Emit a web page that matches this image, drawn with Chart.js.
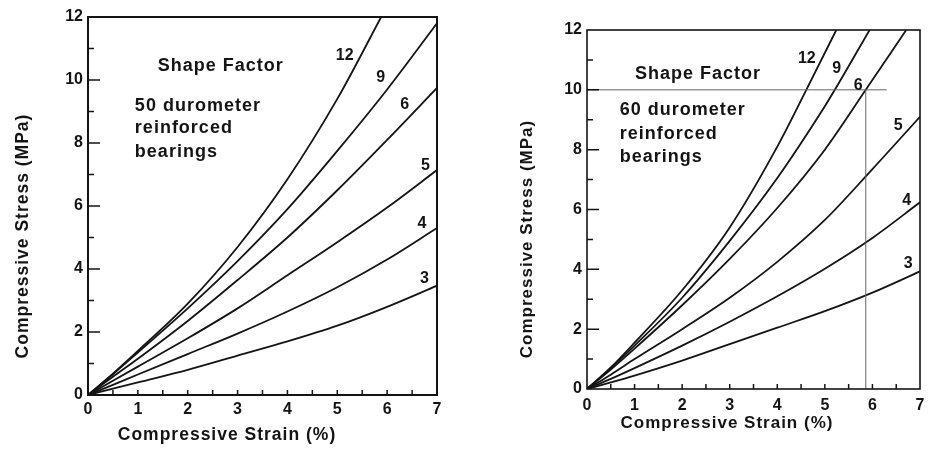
<!DOCTYPE html>
<html><head><meta charset="utf-8">
<script src="https://cdn.jsdelivr.net/npm/chart.js@4.4.1/dist/chart.umd.min.js"></script>
<style>
html,body{margin:0;padding:0;background:#fff;width:947px;height:451px;overflow:hidden;}
canvas{position:absolute;top:0;}
#c1{left:0;}
#c2{left:500px;}
</style></head><body>
<canvas id="c1" width="460" height="451" style="width:460px;height:451px"></canvas>
<canvas id="c2" width="447" height="451" style="width:447px;height:451px"></canvas>
<script>
// ---------- data ----------
const strainTicks = [0, 1, 2, 3, 4, 5, 6, 7];
const stressTicks = [0, 2, 4, 6, 8, 10, 12];
const shapeFactors = ['3', '4', '5', '6', '9', '12'];
const strainGrid = [0, 0.5, 1, 2, 3, 4, 5, 6, 7];

// 50 durometer reinforced bearings
const d50_sf3  = [0, 0.2, 0.4, 0.8, 1.25, 1.7, 2.2, 2.8, 3.47];
const d50_sf4  = [0, 0.32, 0.65, 1.3, 1.95, 2.65, 3.42, 4.3, 5.3];
const d50_sf5  = [0, 0.45, 0.9, 1.8, 2.75, 3.8, 4.85, 5.95, 7.14];
const d50_sf6  = [0, 0.58, 1.15, 2.35, 3.65, 5.0, 6.5, 8.1, 9.75];
const d50_sf9  = [0, 0.66, 1.35, 2.75, 4.25, 5.9, 7.75, 9.7, 11.8];
const d50_sf12_strain = [0, 0.5, 1, 2, 3, 4, 5, 5.88];
const d50_sf12 = [0, 0.68, 1.4, 2.9, 4.7, 6.85, 9.4, 12];

// 60 durometer reinforced bearings
const d60_sf3  = [0, 0.22, 0.45, 0.95, 1.5, 2.05, 2.6, 3.22, 3.93];
const d60_sf4  = [0, 0.34, 0.7, 1.45, 2.25, 3.1, 4.02, 5.05, 6.24];
const d60_sf5  = [0, 0.48, 1.0, 2.0, 3.05, 4.25, 5.65, 7.35, 9.1];
const d60_sf6_strain = [0, 0.5, 1, 2, 3, 4, 5, 5.86, 6.71];
const d60_sf6  = [0, 0.65, 1.35, 2.8, 4.35, 6.05, 8.0, 10, 12];
const d60_sf9_strain = [0, 0.5, 1, 2, 3, 4, 5, 5.21, 5.94];
const d60_sf9  = [0, 0.7, 1.45, 3.05, 4.95, 7.05, 9.45, 10, 12];
const d60_sf12_strain = [0, 0.5, 1, 2, 3, 4, 4.61, 5.24];
const d60_sf12 = [0, 0.72, 1.55, 3.3, 5.4, 8.1, 10, 12];

// guide lines on the 60 durometer chart
const guideH_strain = [0, 6.3];
const guideH_stress = [10, 10];
const guideV_strain = [5.86, 5.86];
const guideV_stress = [0, 10];

// ---------- helpers ----------
const FONT = "'Liberation Sans', Arial, Helvetica, sans-serif";
const INK = '#141414';
const pts = (xs, ys) => xs.map((v, i) => ({x: v, y: ys[i]}));

function curve(label, xs, ys) {
  return {label, data: pts(xs, ys), borderColor: INK, borderWidth: 1.8,
    pointRadius: 0, fill: false, cubicInterpolationMode: 'monotone'};
}
function guide(xs, ys) {
  return {label: 'guide', data: pts(xs, ys), borderColor: '#666', borderWidth: 1,
    pointRadius: 0, fill: false, tension: 0};
}

const deco = {
  id: 'deco',
  afterDatasetsDraw(chart, args, o) {
    const {ctx, chartArea: a, scales: {x, y}} = chart;
    ctx.save();
    ctx.strokeStyle = INK;
    ctx.lineWidth = 1.5;
    ctx.beginPath();
    for (let v = 1; v < 12; v += 1) {
      const py = y.getPixelForValue(v);
      const len = v % 2 === 0 ? o.majorLen : o.minorLen;
      ctx.moveTo(a.left, py); ctx.lineTo(a.left + len, py);
    }
    for (let v = 0.5; v < 7; v += 0.5) {
      const px = x.getPixelForValue(v);
      ctx.moveTo(px, a.bottom); ctx.lineTo(px, a.bottom - o.xLen);
    }
    ctx.stroke();
    ctx.lineWidth = o.frame;
    ctx.strokeRect(a.left, a.top, a.right - a.left, a.bottom - a.top);

    ctx.fillStyle = INK;
    ctx.textBaseline = 'middle';
    for (const t of o.texts) {
      ctx.font = t.font;
      try { ctx.letterSpacing = (t.spacing || 0) + 'px'; } catch (e) {}
      ctx.textAlign = t.align || 'left';
      ctx.fillText(t.text, x.getPixelForValue(t.x), y.getPixelForValue(t.y));
    }
    // axis titles
    ctx.font = 'bold ' + o.titleSize + 'px ' + FONT;
    try { ctx.letterSpacing = o.spacing + 'px'; } catch (e) {}
    ctx.textAlign = 'center';
    ctx.fillText(o.xTitle, o.xTitlePos[0], o.xTitlePos[1]);
    ctx.translate(o.yTitlePos[0], o.yTitlePos[1]);
    ctx.rotate(-Math.PI / 2);
    ctx.fillText(o.yTitle, 0, 0);
    ctx.restore();
  }
};

function makeChart(id, datasets, cfg) {
  const tickFont = {family: FONT, size: 16, weight: 'bold'};
  return new Chart(document.getElementById(id), {
    type: 'line',
    data: {datasets},
    options: {
      responsive: false, animation: false, events: [],
      layout: {padding: cfg.padding},
      plugins: {legend: {display: false}, tooltip: {enabled: false}, deco: cfg.deco},
      scales: {
        x: {type: 'linear', min: 0, max: 7,
          afterBuildTicks: s => { s.ticks = strainTicks.map(v => ({value: v})); },
          afterFit: s => { s.height = cfg.xHeight; },
          grid: {display: false, drawTicks: false}, border: {display: false},
          ticks: {color: INK, font: tickFont, padding: cfg.xPad, maxRotation: 0, autoSkip: false}},
        y: {type: 'linear', min: 0, max: 12,
          afterBuildTicks: s => { s.ticks = stressTicks.map(v => ({value: v})); },
          afterFit: s => { s.width = cfg.yWidth; },
          grid: {display: false, drawTicks: false}, border: {display: false},
          ticks: {color: INK, font: tickFont, padding: 5, autoSkip: false}}
      }
    },
    plugins: [deco]
  });
}

const big = 'bold 18px ' + FONT;
const num = 'bold 16px ' + FONT;

makeChart('c1', [
  curve(shapeFactors[0], strainGrid, d50_sf3),
  curve(shapeFactors[1], strainGrid, d50_sf4),
  curve(shapeFactors[2], strainGrid, d50_sf5),
  curve(shapeFactors[3], strainGrid, d50_sf6),
  curve(shapeFactors[4], strainGrid, d50_sf9),
  curve(shapeFactors[5], d50_sf12_strain, d50_sf12)
], {
  padding: {left: 0, top: 17, right: 23, bottom: 0},
  xHeight: 56, yWidth: 88, xPad: 5,
  deco: {
    majorLen: 12, minorLen: 6, xLen: 5, frame: 2,
    titleSize: 17.5, spacing: 1,
    xTitle: 'Compressive Strain (%)', xTitlePos: [227, 435],
    yTitle: 'Compressive Stress (MPa)', yTitlePos: [23, 236],
    texts: [
      {text: 'Shape Factor', x: 1.40, y: 10.43, font: big, spacing: 1},
      {text: '50 durometer', x: 0.94, y: 9.18, font: big, spacing: 1},
      {text: 'reinforced', x: 0.94, y: 8.47, font: big, spacing: 1},
      {text: 'bearings', x: 0.94, y: 7.72, font: big, spacing: 1},
      {text: shapeFactors[5], x: 5.15, y: 10.79, font: num, align: 'center'},
      {text: shapeFactors[4], x: 5.87, y: 10.07, font: num, align: 'center'},
      {text: shapeFactors[3], x: 6.35, y: 9.21, font: num, align: 'center'},
      {text: shapeFactors[2], x: 6.77, y: 7.28, font: num, align: 'center'},
      {text: shapeFactors[1], x: 6.70, y: 5.45, font: num, align: 'center'},
      {text: shapeFactors[0], x: 6.75, y: 3.70, font: num, align: 'center'}
    ]
  }
});

makeChart('c2', [
  guide(guideH_strain, guideH_stress),
  guide(guideV_strain, guideV_stress),
  curve(shapeFactors[0], strainGrid, d60_sf3),
  curve(shapeFactors[1], strainGrid, d60_sf4),
  curve(shapeFactors[2], strainGrid, d60_sf5),
  curve(shapeFactors[3], d60_sf6_strain, d60_sf6),
  curve(shapeFactors[4], d60_sf9_strain, d60_sf9),
  curve(shapeFactors[5], d60_sf12_strain, d60_sf12)
], {
  padding: {left: 0, top: 30, right: 27, bottom: 0},
  xHeight: 62, yWidth: 87, xPad: 7,
  deco: {
    majorLen: 12, minorLen: 6, xLen: 5, frame: 1.6,
    titleSize: 17, spacing: 1,
    xTitle: 'Compressive Strain (%)', xTitlePos: [227, 423],
    yTitle: 'Compressive Stress (MPa)', yTitlePos: [27, 239],
    texts: [
      {text: 'Shape Factor', x: 1.01, y: 10.54, font: big, spacing: 1},
      {text: '60 durometer', x: 0.69, y: 9.31, font: big, spacing: 1},
      {text: 'reinforced', x: 0.69, y: 8.53, font: big, spacing: 1},
      {text: 'bearings', x: 0.69, y: 7.77, font: big, spacing: 1},
      {text: shapeFactors[5], x: 4.62, y: 11.04, font: num, align: 'center'},
      {text: shapeFactors[4], x: 5.25, y: 10.72, font: num, align: 'center'},
      {text: shapeFactors[3], x: 5.70, y: 10.14, font: num, align: 'center'},
      {text: shapeFactors[2], x: 6.54, y: 8.81, font: num, align: 'center'},
      {text: shapeFactors[1], x: 6.72, y: 6.30, font: num, align: 'center'},
      {text: shapeFactors[0], x: 6.75, y: 4.18, font: num, align: 'center'}
    ]
  }
});
</script>
</body></html>
